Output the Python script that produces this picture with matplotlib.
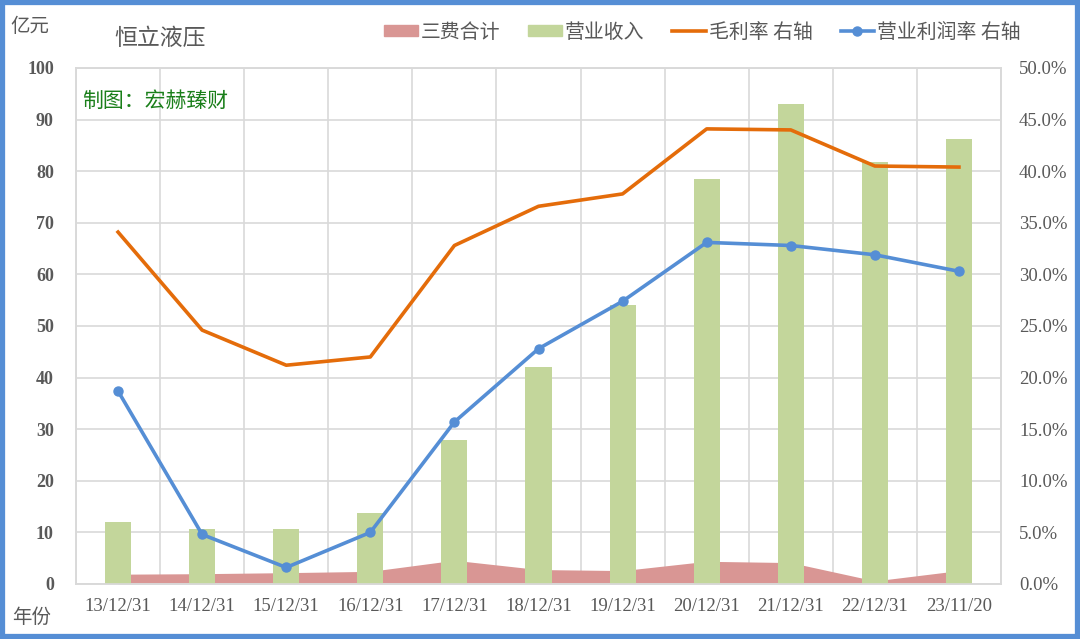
import matplotlib
matplotlib.use("Agg")
import matplotlib.pyplot as plt
import matplotlib.patches as patches
from matplotlib.lines import Line2D
from matplotlib.ticker import MultipleLocator, FuncFormatter
import numpy as np

plt.rcParams['font.family'] = ['Noto Sans CJK SC', 'DejaVu Sans']

# data
dates = ['13/12/31', '14/12/31', '15/12/31', '16/12/31', '17/12/31', '18/12/31',
         '19/12/31', '20/12/31', '21/12/31', '22/12/31', '23/11/20']
fees = [1.9, 2.0, 2.2, 2.45, 4.6, 2.8, 2.6, 4.4, 4.15, 0.6, 2.6]          # 三费合计, 亿元
revenue = [12.1, 10.7, 10.7, 13.7, 27.9, 42.0, 54.1, 78.4, 93.0, 81.8, 86.2]  # 营业收入, 亿元
gross_margin = [34.1, 24.6, 21.2, 22.0, 32.8, 36.6, 37.8, 44.1, 44.0, 40.5, 40.4]  # %
op_margin = [18.7, 4.8, 1.6, 5.0, 15.7, 22.8, 27.4, 33.1, 32.8, 31.9, 30.3]        # %

GRAY = '#595959'
GRID = '#d9d9d9'
SERIF = 'Liberation Serif'

fig = plt.figure(figsize=(10.8, 6.39), dpi=100)
ax = fig.add_axes([76 / 1080, 1 - 584 / 639, 925 / 1080, 516 / 639])
ax2 = ax.twinx()

x = np.arange(len(dates))

# area for fees, behind the bars
ax.fill_between(x, fees, 0, color='#d99694', linewidth=0, zorder=2)
ax.bar(x, revenue, width=0.31, color='#c3d69b', zorder=3)

ax.set_xlim(-0.5, len(dates) - 0.5)
ax.set_ylim(0, 100)
ax.yaxis.set_major_locator(MultipleLocator(10))
ax.set_xticks(x)
ax.set_xticklabels(dates)

# grid: horizontal at every 10, vertical at category boundaries
ax.set_xticks(np.arange(-0.5, len(dates)), minor=True)
ax.grid(True, axis='y', which='major', color=GRID, linewidth=1.2, zorder=0)
ax.grid(True, axis='x', which='minor', color=GRID, linewidth=1.2, zorder=0)
ax.set_axisbelow(True)

for a in (ax, ax2):
    for s in a.spines.values():
        s.set_color(GRID)
        s.set_linewidth(1.2)
    a.tick_params(length=0, which='both')

ax.tick_params(axis='y', pad=16, labelcolor=GRAY)
ax.tick_params(axis='x', pad=10, labelcolor=GRAY)
for lab in ax.get_yticklabels():
    lab.set_fontfamily(SERIF)
    lab.set_fontweight('bold')
    lab.set_fontsize(13)
for lab in ax.get_xticklabels():
    lab.set_fontfamily(SERIF)
    lab.set_fontsize(13.5)

ax2.plot(x, gross_margin, color='#e46c0a', linewidth=2.6, zorder=4)
ax2.plot(x, op_margin, color='#558ed5', linewidth=2.6, marker='o',
         markersize=6.5, zorder=5)
ax2.set_ylim(0, 50)
ax2.yaxis.set_major_locator(MultipleLocator(5))
ax2.yaxis.set_major_formatter(FuncFormatter(lambda v, p: f'{v:.1f}%'))
ax2.tick_params(axis='y', pad=13, labelcolor=GRAY)
for lab in ax2.get_yticklabels():
    lab.set_fontfamily(SERIF)
    lab.set_fontsize(13.5)

# texts
fig.text(10 / 1080, 1 - 27 / 639, '亿元', fontsize=14, color=GRAY, va='center')
fig.text(12 / 1080, 1 - 617 / 639, '年份', fontsize=14, color=GRAY, va='center')
fig.text(114 / 1080, 1 - 38 / 639, '恒立液压', fontsize=16.5, color=GRAY, va='center')
fig.text(82 / 1080, 1 - 101 / 639, '制图：宏赫臻财', fontsize=15, color='#1a7f1a',
         va='center')

# legend
handles = [
    patches.Patch(color='#d99694', label='三费合计'),
    patches.Patch(color='#c3d69b', label='营业收入'),
    Line2D([], [], color='#e46c0a', linewidth=2.6, label='毛利率 右轴'),
    Line2D([], [], color='#558ed5', linewidth=2.6, marker='o', markersize=6.5,
           label='营业利润率 右轴'),
]
fig.legend(handles=handles, loc='center left', bbox_to_anchor=(384 / 1080, 1 - 32 / 639),
           ncol=4, frameon=False, fontsize=14.3, handlelength=1.7, handleheight=0.5,
           handletextpad=0.15, columnspacing=1.4, borderpad=0, borderaxespad=0,
           labelcolor=GRAY)

# blue frame around the picture
fig.patches.append(patches.Rectangle((0.0015, 0.004), 0.996, 0.993,
                                     transform=fig.transFigure, fill=False,
                                     edgecolor='#558ed5', linewidth=3.8))

fig.savefig('out.png', dpi=100)
